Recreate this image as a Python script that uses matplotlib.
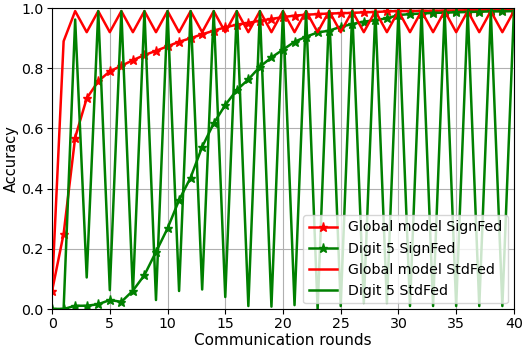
import numpy as np
import matplotlib
matplotlib.use("Agg")
import matplotlib.pyplot as plt

# communication rounds 0..40
rounds = np.arange(41)

# global model accuracy with SignFed
global_signfed = [0.06, 0.25, 0.57, 0.70, 0.757, 0.79, 0.808, 0.827, 0.844, 0.858,
                  0.873, 0.888, 0.90, 0.913, 0.925, 0.936, 0.945, 0.951, 0.958, 0.964,
                  0.970, 0.975, 0.978, 0.980, 0.982, 0.983, 0.984, 0.986, 0.987, 0.989,
                  0.990, 0.990, 0.991, 0.991, 0.992, 0.992, 0.993, 0.993, 0.994, 0.994,
                  0.995]

# digit 5 accuracy with SignFed
digit5_signfed = [0.0, 0.0, 0.011, 0.011, 0.016, 0.03, 0.024, 0.061, 0.113, 0.19,
                  0.268, 0.362, 0.437, 0.539, 0.617, 0.678, 0.728, 0.763, 0.805, 0.836,
                  0.862, 0.888, 0.905, 0.919, 0.925, 0.938, 0.947, 0.955, 0.96, 0.966,
                  0.977, 0.98, 0.982, 0.984, 0.985, 0.986, 0.987, 0.988, 0.989, 0.989,
                  0.99]

# global model accuracy with StdFed (alternates every round)
global_stdfed = [0.07, 0.89, 0.99, 0.92, 0.99, 0.92, 0.99, 0.92, 0.99, 0.92,
                 0.99, 0.92, 0.99, 0.92, 0.99, 0.92, 0.99, 0.92, 0.99, 0.92,
                 0.99, 0.92, 0.99, 0.92, 0.99, 0.92, 0.99, 0.92, 0.99, 0.92,
                 0.99, 0.92, 0.99, 0.92, 0.99, 0.92, 0.99, 0.92, 0.99, 0.92,
                 0.99]

# digit 5 accuracy with StdFed
digit5_stdfed = [0.0, 0.0, 0.962, 0.105, 0.99, 0.063, 0.99, 0.053, 0.99, 0.03,
                 0.99, 0.06, 0.99, 0.065, 0.99, 0.04, 0.99, 0.01, 0.99, 0.008,
                 0.99, 0.013, 0.99, 0.0, 0.99, 0.01, 0.99, 0.02, 0.99, 0.02,
                 0.99, 0.01, 0.99, 0.01, 0.99, 0.01, 0.99, 0.01, 0.99, 0.01,
                 0.99]

fig = plt.figure(figsize=(5.26, 3.52), dpi=100)
ax = fig.add_axes([0.099, 0.122, 0.878, 0.855])

ax.plot(rounds, global_signfed, color='red', marker='*', markersize=6.5,
        linewidth=1.8, label='Global model SignFed')
ax.plot(rounds, digit5_signfed, color='green', marker='*', markersize=6.5,
        linewidth=1.8, label='Digit 5 SignFed')
ax.plot(rounds, global_stdfed, color='red', linewidth=1.8,
        label='Global model StdFed')
ax.plot(rounds, digit5_stdfed, color='green', linewidth=1.8,
        label='Digit 5 StdFed')

ax.set_xlim(0, 40)
ax.set_ylim(0, 1.0)
ax.set_xticks(range(0, 41, 5))
ax.set_yticks(np.arange(0, 1.01, 0.2))
ax.grid(True, color='#b0b0b0', linewidth=0.8)
ax.tick_params(labelsize=10.2, pad=2.5)
ax.set_xlabel('Communication rounds', fontsize=11, labelpad=1)
ax.set_ylabel('Accuracy', fontsize=10.5, labelpad=2)
ax.legend(loc='lower right', fontsize=10.2, borderaxespad=0.4)

fig.savefig('out.png', dpi=100)
